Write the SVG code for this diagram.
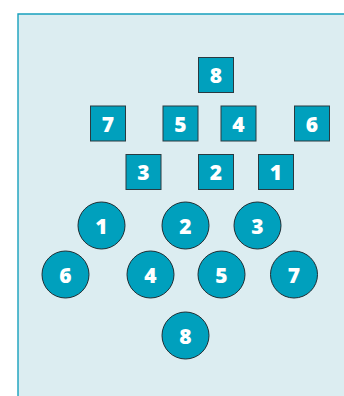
<svg xmlns="http://www.w3.org/2000/svg" width="344" height="396" viewBox="0 0 344 396">
<style>
.sq{fill:#00a0bd;stroke:#2a3a40;stroke-width:1}
.ci{fill:#00a0bd;stroke:#1f2d33;stroke-width:1}
.t{font-family:"Open Sans","DejaVu Sans",sans-serif;font-weight:800;font-size:21px;fill:#ffffff;text-anchor:middle;dominant-baseline:central}
</style>
<rect x="0" y="0" width="344" height="396" fill="#ffffff"/>
<path d="M18 396 V14 H344 V396 Z" fill="#dcedf1"/>
<path d="M18 396 V14 H344" fill="none" stroke="#17a0bd" stroke-width="1.4"/>
<g id="connectors"></g>
<g id="sq8"><rect class="sq" x="198.5" y="57.5" width="35" height="35"/><text class="t" x="216" y="75">8</text></g>
<g id="sq7"><rect class="sq" x="90.5" y="106" width="35" height="35"/><text class="t" x="108" y="123.5">7</text></g>
<g id="sq5"><rect class="sq" x="163" y="106" width="35" height="35"/><text class="t" x="180.5" y="123.5">5</text></g>
<g id="sq4"><rect class="sq" x="221" y="106" width="35" height="35"/><text class="t" x="238.5" y="123.5">4</text></g>
<g id="sq6"><rect class="sq" x="294.5" y="106" width="35" height="35"/><text class="t" x="312" y="123.5">6</text></g>
<g id="sq3"><rect class="sq" x="126" y="154.5" width="35" height="35"/><text class="t" x="143.5" y="172">3</text></g>
<g id="sq2"><rect class="sq" x="198.5" y="154.5" width="35" height="35"/><text class="t" x="216" y="172">2</text></g>
<g id="sq1"><rect class="sq" x="258.5" y="154.5" width="35" height="35"/><text class="t" x="276" y="172">1</text></g>
<g id="c1"><circle class="ci" cx="101.5" cy="225.5" r="23.5"/><text class="t" x="101.5" y="225.5">1</text></g>
<g id="c2"><circle class="ci" cx="185.5" cy="225.5" r="23.5"/><text class="t" x="185.5" y="225.5">2</text></g>
<g id="c3"><circle class="ci" cx="257.5" cy="225.5" r="23.5"/><text class="t" x="257.5" y="225.5">3</text></g>
<g id="c6"><circle class="ci" cx="65.5" cy="274.5" r="23.5"/><text class="t" x="65.5" y="274.5">6</text></g>
<g id="c4"><circle class="ci" cx="150.5" cy="274.5" r="23.5"/><text class="t" x="150.5" y="274.5">4</text></g>
<g id="c5"><circle class="ci" cx="221.5" cy="274.5" r="23.5"/><text class="t" x="221.5" y="274.5">5</text></g>
<g id="c7"><circle class="ci" cx="294" cy="274.5" r="23.5"/><text class="t" x="294" y="274.5">7</text></g>
<g id="c8"><circle class="ci" cx="185.5" cy="335.5" r="23.5"/><text class="t" x="185.5" y="335.5">8</text></g>
</svg>
